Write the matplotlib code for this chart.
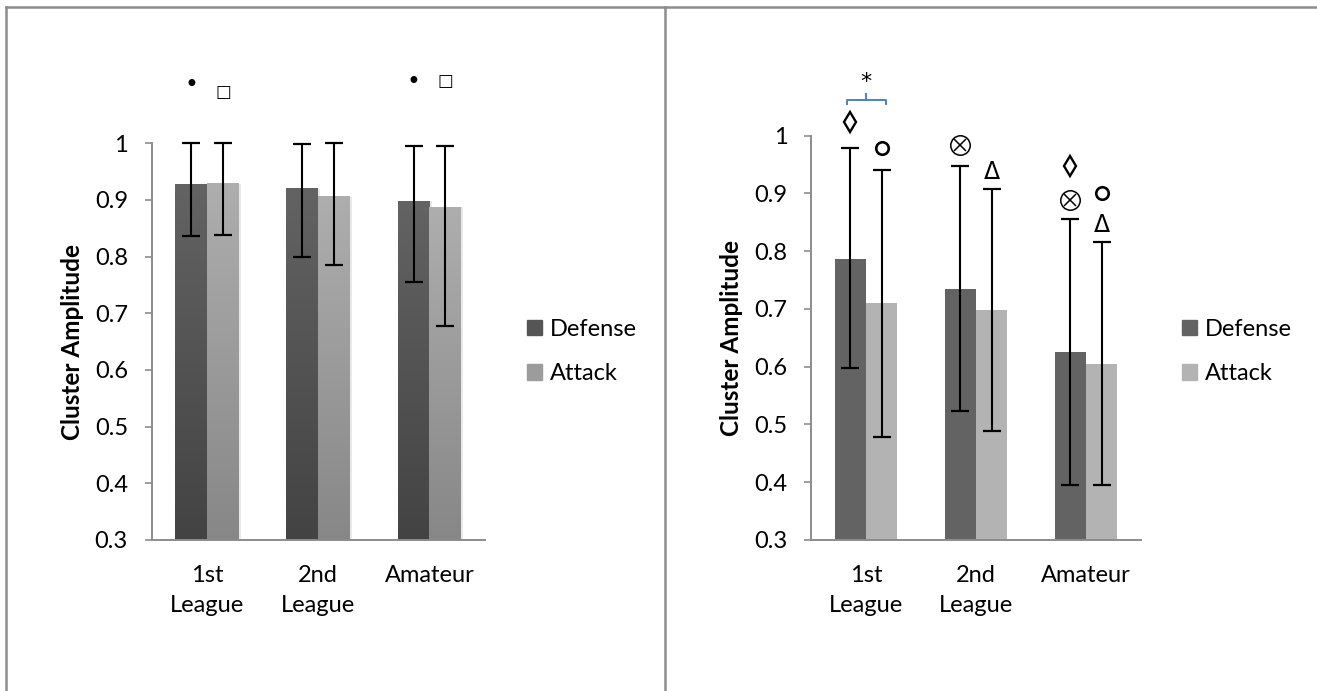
import numpy as np
import matplotlib.pyplot as plt
from matplotlib.lines import Line2D
from matplotlib.patches import Patch
from matplotlib.colors import LinearSegmentedColormap

# ---- data ----
categories = ['1st\nLeague', '2nd\nLeague', 'Amateur']
series = ['Defense', 'Attack']

# left panel
left_defense = [0.927, 0.920, 0.898]
left_defense_lo = [0.836, 0.800, 0.756]
left_defense_hi = [1.000, 0.998, 0.996]
left_attack = [0.929, 0.906, 0.887]
left_attack_lo = [0.839, 0.786, 0.677]
left_attack_hi = [1.000, 1.000, 0.996]

# right panel
right_defense = [0.787, 0.735, 0.625]
right_defense_lo = [0.598, 0.524, 0.396]
right_defense_hi = [0.978, 0.947, 0.856]
right_attack = [0.710, 0.698, 0.605]
right_attack_lo = [0.479, 0.489, 0.396]
right_attack_hi = [0.941, 0.908, 0.816]

# significance symbols: (category, series, y, symbol)
left_marks = [(0, 0, 1.102, '•'), (0, 1, 1.090, '□'),
              (2, 0, 1.109, '•'), (2, 1, 1.110, '□')]
right_marks = [(0, 0, 1.023, '◊'), (0, 1, 0.979, '○'),
               (1, 0, 0.984, '⊗'), (1, 1, 0.938, 'Δ'),
               (2, 0, 0.948, '◊'), (2, 0, 0.889, '⊗'),
               (2, 1, 0.900, '○'), (2, 1, 0.845, 'Δ')]

W, H = 1317, 691
plt.rcParams['font.family'] = ['Lato', 'DejaVu Sans']
fig = plt.figure(figsize=(W / 100, H / 100), dpi=100)

AXIS_GRAY = '#8c8c8c'
FS = 17
BW = 0.286
x = np.arange(len(categories))


def px(xp, yp):
    return xp / W, 1 - yp / H


def style_axes(ax):
    ax.set_ylim(0.3, 1.0)
    ax.set_xlim(-0.5, len(categories) - 0.5)
    ax.set_yticks(np.arange(0.3, 1.01, 0.1))
    ax.set_yticklabels(['0.3', '0.4', '0.5', '0.6', '0.7', '0.8', '0.9', '1'])
    ax.set_xticks(x)
    ax.set_xticklabels(categories, linespacing=1.55)
    for s in ['top', 'right']:
        ax.spines[s].set_visible(False)
    for s in ['left', 'bottom']:
        ax.spines[s].set_color(AXIS_GRAY)
        ax.spines[s].set_linewidth(1.4)
    ax.tick_params(axis='y', length=5, width=1.2, color=AXIS_GRAY,
                   labelsize=FS, pad=12)
    ax.tick_params(axis='x', length=0, labelsize=FS, pad=18)
    ax.set_ylabel('Cluster Amplitude', fontsize=17.5, fontweight='bold',
                  labelpad=8)
    ax.patch.set_alpha(0)


def error_bars(ax, xs, vals, lo, hi):
    vals = np.array(vals)
    yerr = [vals - np.array(lo), np.array(hi) - vals]
    ax.errorbar(xs, vals, yerr=yerr, fmt='none', ecolor='black',
                elinewidth=1.5, capsize=6.5, capthick=1.6, zorder=5,
                clip_on=False)


def gradient_bars(ax, xs, vals, top_col, bot_col):
    cmap = LinearSegmentedColormap.from_list('g', [bot_col, top_col])
    grad = np.linspace(0, 1, 256).reshape(-1, 1)
    for xc, v in zip(xs, vals):
        # soft shadow
        ax.bar(xc + 0.02, v - 0.3, BW, bottom=0.3, color='#e8e8e8', zorder=1)
        ax.imshow(grad, cmap=cmap, origin='lower', aspect='auto',
                  extent=(xc - BW / 2, xc + BW / 2, 0.3, v), zorder=2)


def symbols(ax, marks):
    for c, s, yv, sym in marks:
        xc = c + (s - 0.5) * BW
        kw = dict(clip_on=False, zorder=6, ls='none', color='black')
        if sym == '⊗':
            ax.plot(xc, yv, marker='o', ms=14, mfc='white', mew=1.1, **kw)
            ax.plot(xc, yv, marker='x', ms=8.5, mew=1.1, **kw)
        elif sym == '○':
            ax.plot(xc, yv, marker='o', ms=9, mfc='white', mew=1.9, **kw)
        elif sym == '◊':
            ax.plot(xc, yv, marker='d', ms=10.5, mfc='white', mew=1.7, **kw)
        else:
            size = {'•': 17, '□': 12, 'Δ': 17}[sym]
            ax.text(xc, yv, sym, ha='center', va='center', fontsize=size,
                    family=['DejaVu Sans'], clip_on=False, zorder=6)


# ---- left panel ----
ax1 = fig.add_axes([151.5 / W, 1 - 540 / H, (485 - 151.5) / W, (540 - 143.3) / H])
xd, xa = x - BW / 2, x + BW / 2
gradient_bars(ax1, xd, left_defense, '#636363', '#434343')
gradient_bars(ax1, xa, left_attack, '#aeaeae', '#878787')
error_bars(ax1, xd, left_defense, left_defense_lo, left_defense_hi)
error_bars(ax1, xa, left_attack, left_attack_lo, left_attack_hi)
style_axes(ax1)
symbols(ax1, left_marks)

# ---- right panel ----
ax2 = fig.add_axes([811 / W, 1 - 540 / H, (1141 - 811) / W, (540 - 135.7) / H])
ax2.bar(xd, np.array(right_defense) - 0.3, BW, bottom=0.3, color='#636363', zorder=2)
ax2.bar(xa, np.array(right_attack) - 0.3, BW, bottom=0.3, color='#b3b3b3', zorder=2)
error_bars(ax2, xd, right_defense, right_defense_lo, right_defense_hi)
error_bars(ax2, xa, right_attack, right_attack_lo, right_attack_hi)
style_axes(ax2)
symbols(ax2, right_marks)

# significance bracket between 1st league defense and attack
bx0, bx1, by = -0.17, 0.18, 1.062
ax2.plot([bx0, bx0, bx1, bx1], [by - 0.007, by, by, by - 0.007],
         color='#4f81bd', lw=1.4, clip_on=False, zorder=6)
ax2.plot([(bx0 + bx1) / 2 - 0.005] * 2, [by, by + 0.01], color='#4f81bd',
         lw=1.4, clip_on=False, zorder=6)
ax2.text((bx0 + bx1) / 2 - 0.005, 1.093, '*', ha='center', va='center',
         fontsize=16, family=['DejaVu Sans'], clip_on=False)

# ---- legends ----
leg_kw = dict(frameon=False, loc='center left', fontsize=FS, borderpad=0,
              borderaxespad=0, handlelength=0.65, handleheight=0.65,
              handletextpad=0.3, labelspacing=1.0)
h1 = [Patch(color='#555555'), Patch(color='#9c9c9c')]
fig.legend(h1, series, bbox_to_anchor=px(527, 351.5), **leg_kw)
h2 = [Patch(color='#636363'), Patch(color='#b3b3b3')]
fig.legend(h2, series, bbox_to_anchor=px(1182, 351.5), **leg_kw)

# ---- outer frame ----
for xs_, ys_ in [((6, 6), (6.5, H)), ((6, W), (6.5, 6.5)), ((664.5, 664.5), (6.5, H))]:
    fig.add_artist(Line2D([v / W for v in xs_], [1 - v / H for v in ys_],
                          color=AXIS_GRAY, lw=1.8))

fig.savefig('out.png', dpi=100)
